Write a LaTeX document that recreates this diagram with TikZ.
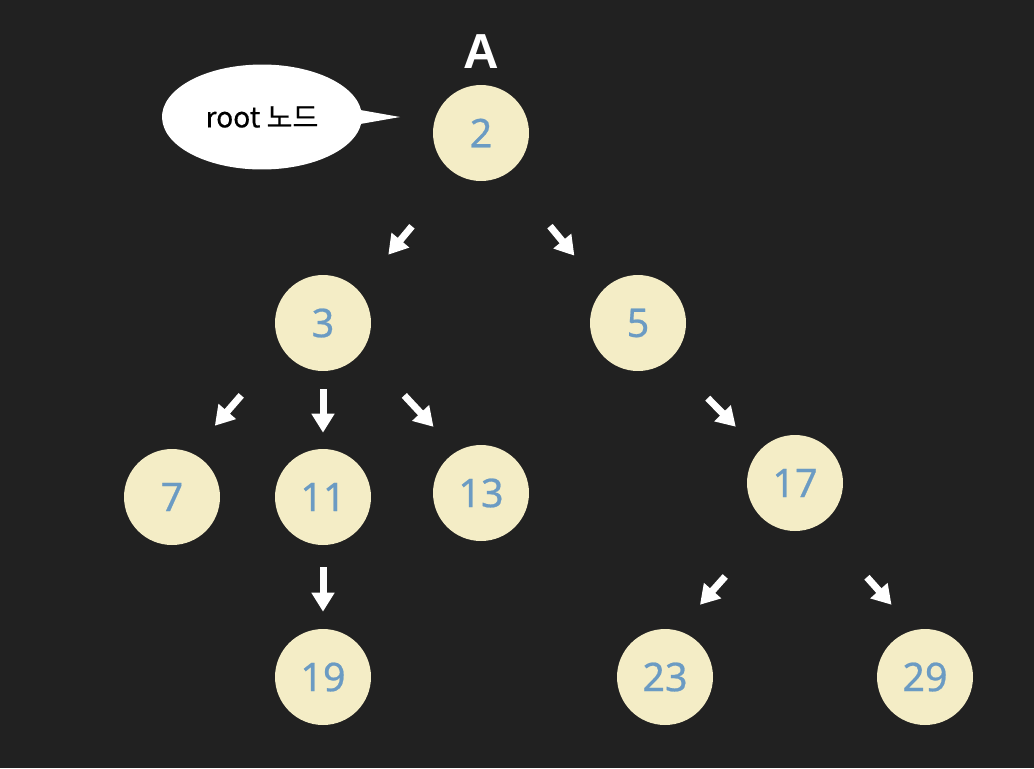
\documentclass[tikz,border=0pt]{standalone}
\usepackage{fontspec}
\usetikzlibrary{arrows.meta, shapes.geometric, shapes.callouts}
\newfontfamily\numfont{Noto Sans}[FakeBold=0.6]
\newfontfamily\lblfont{Liberation Sans}
\newfontfamily\krfont{Noto Sans CJK KR}[FakeBold=0.4]
\definecolor{bgdark}{HTML}{212121}
\definecolor{nodefill}{HTML}{F4EDC6}
\definecolor{numblue}{HTML}{6B9BC3}
\tikzset{
	num/.style={circle, fill=nodefill, minimum size=1.92cm, inner sep=0pt, text=numblue,
		font=\numfont\fontsize{22.5}{26}\selectfont},
	link/.style={draw=white, line width=0.14cm, -{Triangle[width=0.44cm, length=0.38cm]}},
}

\begin{document}
\begin{tikzpicture}[x=0.02cm, y=-0.02cm]
	% Background:
	\fill[bgdark] (0, 0) rectangle (1034, 768);
	% Tree nodes:
	\node[num] (n2) at (481, 133) {2};
	\node[num] (n3) at (323, 323) {3};
	\node[num] (n5) at (638, 323) {5};
	\node[num] (n7) at (172, 497) {7};
	\node[num] (n11) at (323, 497) {11};
	\node[num] (n13) at (481, 493) {13};
	\node[num] (n17) at (795, 483) {17};
	\node[num] (n19) at (323, 677) {19};
	\node[num] (n23) at (665, 677) {23};
	\node[num] (n29) at (925, 677) {29};
	% Label and speech bubble:
	\node[text=white, font=\lblfont\bfseries\fontsize{28}{32}\selectfont] (lblA) at (481, 52) {A};
	\coordinate (tip) at (400, 117);
	\node[ellipse callout, fill=white, minimum width=4cm, minimum height=2.1cm,
		callout absolute pointer={(tip)}, font=\krfont\fontsize{16}{19}\selectfont] (bubble) at (262, 117) {root 노드};
	% Arrows (shortened from the circle borders, nudged sideways):
	\draw[link, transform canvas={xshift=0.17cm}, shorten <=1.46cm, shorten >=0.81cm] (n2) -- (n3);
	\draw[link, transform canvas={xshift=-0.16cm}, shorten <=1.45cm, shorten >=0.78cm] (n2) -- (n5);
	\draw[link, transform canvas={xshift=-0.38cm}, shorten <=0.95cm, shorten >=0.92cm] (n3) -- (n7);
	\draw[link, shorten <=0.36cm, shorten >=0.32cm] (n3) -- (n11);
	\draw[link, transform canvas={xshift=0.28cm}, shorten <=1.01cm, shorten >=0.84cm] (n3) -- (n13);
	\draw[link, transform canvas={xshift=-0.08cm}, shorten <=1.14cm, shorten >=0.61cm] (n5) -- (n17);
	\draw[link, shorten <=0.44cm, shorten >=0.34cm] (n11) -- (n19);
	\draw[link, transform canvas={xshift=-0.59cm}, shorten <=1.21cm, shorten >=0.97cm] (n17.south) -- (n23);
	\draw[link, transform canvas={xshift=0.62cm}, shorten <=1.23cm, shorten >=0.97cm] (n17.south) -- (n29);
\end{tikzpicture}
\end{document}
